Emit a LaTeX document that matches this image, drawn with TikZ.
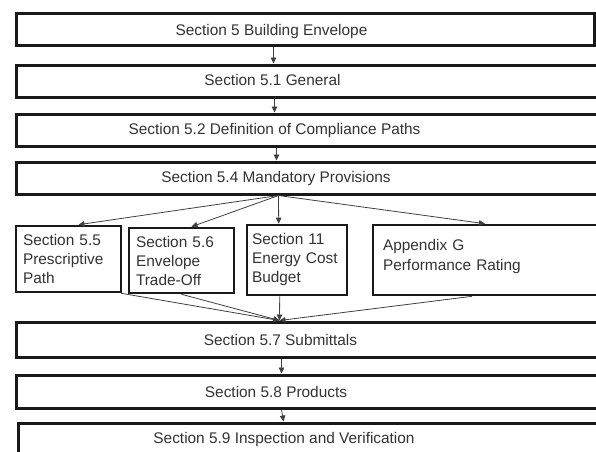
\documentclass[tikz,border=0pt]{standalone}
\usepackage{fontspec}
\setmainfont{Liberation Sans}
\usetikzlibrary{arrows.meta,calc}
\begin{document}
\begin{tikzpicture}[x=1pt,y=-1pt,
  mainbox/.style={draw=black!90,line width=3pt,rectangle,inner sep=0pt},
  childbox/.style={draw=black!90,line width=2.6pt,rectangle,inner ysep=0pt,align=left,
    font=\fontsize{15.4}{19}\selectfont,text=black!80},
  lbl/.style={font=\fontsize{15.4}{19}\selectfont,text=black!80,inner sep=0pt,anchor=base},
  conn/.style={draw=black!75,line width=0.8pt,-{Triangle[length=6pt,width=5.5pt]}}
]
\useasboundingbox[fill=white] (0,0) rectangle (596,451);
\clip (0,0) rectangle (596,451);

% main boxes
\node[mainbox,minimum width=578,minimum height=32] (b5)  at (305,29) {};
\node[mainbox,minimum width=604,minimum height=32] (b51) at (318,81) {};
\node[mainbox,minimum width=581,minimum height=32] (b52) at (306.5,130) {};
\node[mainbox,minimum width=604,minimum height=32] (b54) at (318,178) {};
\node[mainbox,minimum width=604,minimum height=35] (b57) at (318,339.5) {};
\node[mainbox,minimum width=604,minimum height=33] (b58) at (318,391.5) {};
\node[mainbox,minimum width=602,minimum height=57] (b59) at (319,451.5) {};

% main labels
\node[lbl] (t5)  at (271.5,35.5) {Section 5 Building Envelope};
\node[lbl] (t51) at (272.5,85.5) {Section 5.1 General};
\node[lbl] (t52) at (274.5,134.5) {Section 5.2 Definition of Compliance Paths};
\node[lbl] (t54) at (276,182.5) {Section 5.4 Mandatory Provisions};
\node[lbl] (t57) at (280.5,345.5) {Section 5.7 Submittals};
\node[lbl] (t58) at (276,397.5) {Section 5.8 Products};
\node[lbl] (t59) at (284,443.5) {Section 5.9 Inspection and Verification};

% child boxes
\node[childbox,minimum width=105,minimum height=66,inner xsep=7pt,text width=91pt] (b55) at (68.5,259)
  {Section 5.5\\Prescriptive\\Path};
\node[childbox,minimum width=105,minimum height=65,inner xsep=7pt,text width=91pt] (b56) at (181.5,260.5)
  {Section 5.6\\Envelope\\Trade-Off};
\node[childbox,minimum width=100,minimum height=70,inner xsep=5pt,text width=90pt] (b11) at (297,260)
  {Section 11\\Energy Cost\\Budget};
\node[childbox,minimum width=224,minimum height=70,inner xsep=10pt,text width=204pt] (bG) at (485,260)
  {\raisebox{0pt}[0pt][0pt]{\parbox[t]{204pt}{Appendix G\\[1pt]Performance Rating}}\\ \ };

% vertical connectors
\draw[conn] ($(b5.south west)+(259,0)$) -- ($(b51.north west)+(259,0)$);
\draw[conn] ($(b51.south west)+(260,0)$) -- ($(b52.north west)+(260,0)$);
\draw[conn] ($(b52.south west)+(262,0)$) -- ($(b54.north west)+(262,0)$);

% fan out
\coordinate (fo) at ($(b54.south west)+(264,0)$);
\draw[conn] (fo) -- ($(b55.north)+(10,0)$);
\draw[conn] (fo) -- ($(b56.north)+(10,0)$);
\draw[conn] (fo) -- ($(b11.north west)+(33,0)$);
\draw[conn] (fo) -- (bG.north);

% fan in
\coordinate (fi) at ($(b57.north west)+(265,0)$);
\draw[conn] ($(b55.south east)+(-1,0)$) -- (fi);
\draw[conn] (b56.south) -- (fi);
\draw[conn] ($(b11.south west)+(34,0)$) -- (fi);
\draw[conn] ($(bG.south)+(-13,0)$) -- (fi);

\draw[conn] ($(b57.south west)+(267,0)$) -- ($(b58.north west)+(267,0)$);
\draw[conn] ($(b58.south west)+(267,0)$) -- ($(b59.north west)+(267,0)$);
\end{tikzpicture}
\end{document}
